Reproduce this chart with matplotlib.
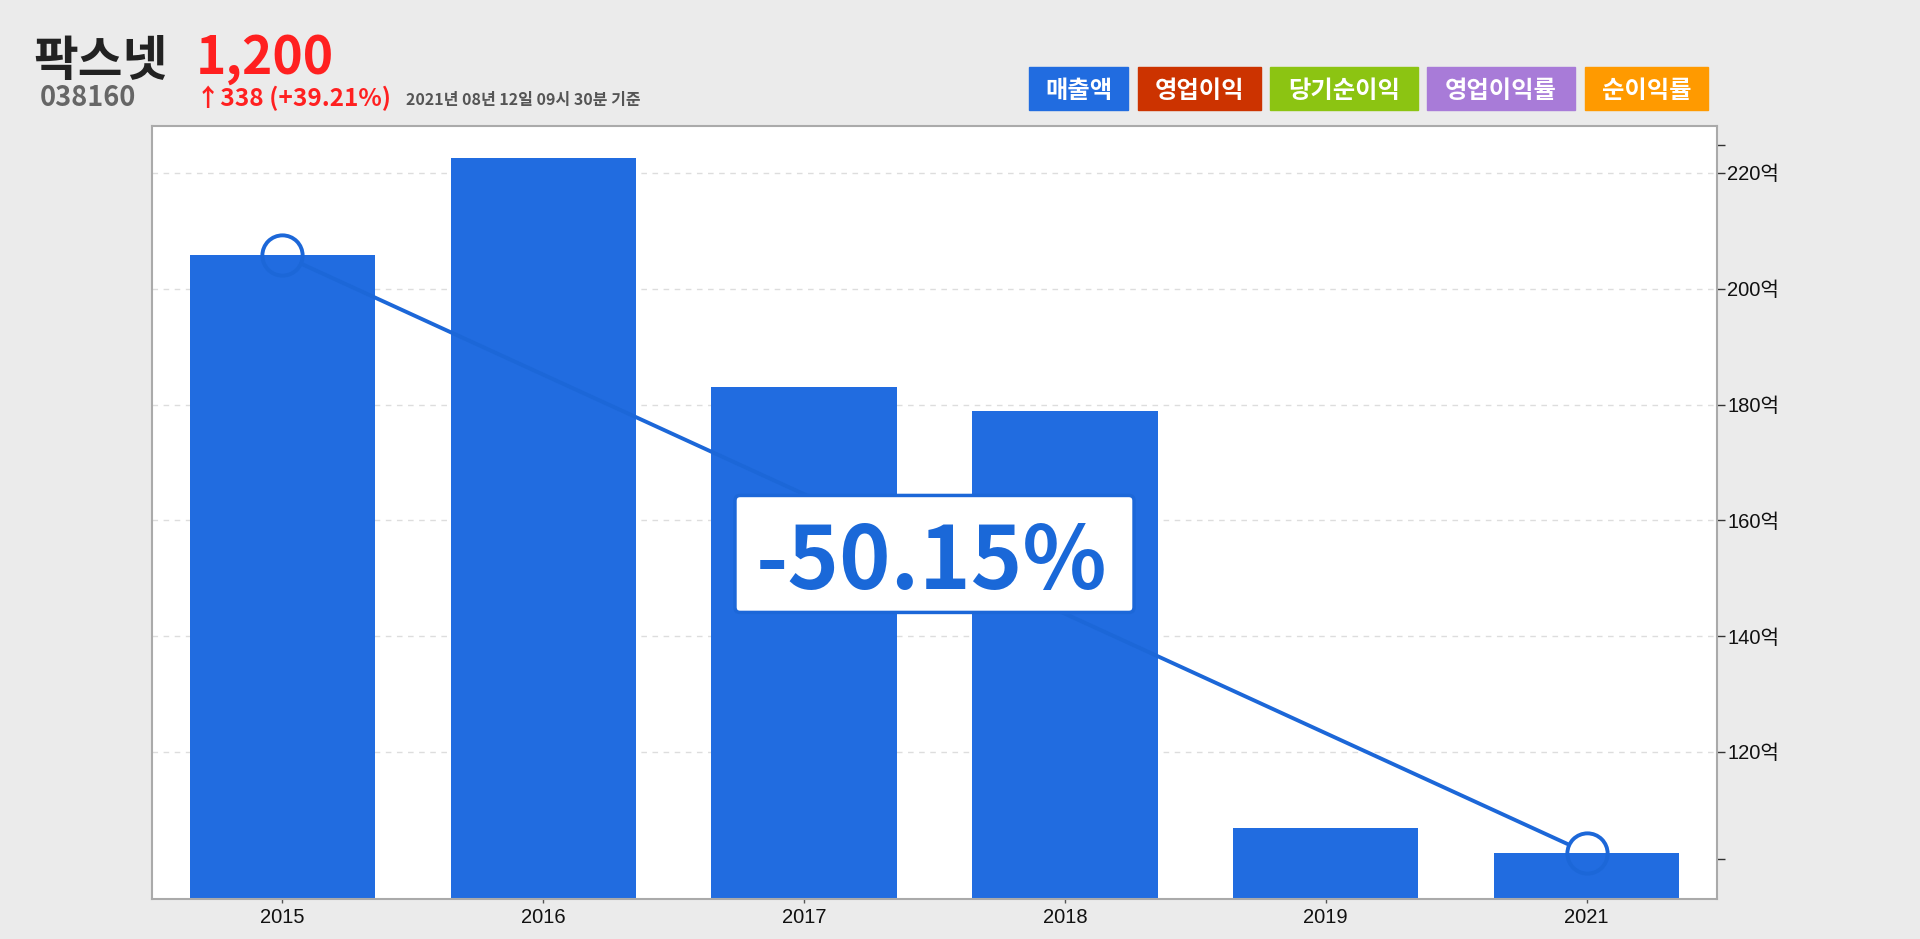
import matplotlib
matplotlib.use("Agg")
import matplotlib.pyplot as plt
import numpy as np
from matplotlib.patches import FancyBboxPatch, Rectangle
from matplotlib.ticker import FixedLocator, NullFormatter

plt.rcParams["font.family"] = ["Liberation Sans", "Noto Sans CJK KR", "DejaVu Sans"]

# ── Data ──────────────────────────────────────────────────────────────────────
years = ["2015", "2016", "2017", "2018", "2019", "2021"]
sales = [205.8, 222.5, 183.0, 178.8, 106.8, 102.6]      # 매출액 (억)
ytick_vals = [120, 140, 160, 180, 200, 220]
ytick_labels = [f"{v}억" for v in ytick_vals]
yminor_vals = [101.5, 224.9]
change_label = "-50.15%"

legend_names = ["매출액", "영업이익", "당기순이익", "영업이익률", "순이익률"]
legend_colors = ["#216ce0", "#cc3300", "#8cc412", "#a87bd8", "#ff9a00"]

stock_name = "팍스넷"
stock_code = "038160"
price = "1,200"
price_change = "338 (+39.21%)"
timestamp = "2021년 08년 12일 09시 30분 기준"

# ── Layout (pixels on a 1920x939 canvas) ─────────────────────────────────────
W, H = 1920, 939
BAR_C = "#216ce0"
LINE_C = "#1c67d8"
KR = ["Noto Sans CJK KR", "DejaVu Sans"]
legend_x = [(1029, 1128), (1138, 1261), (1270, 1418), (1427, 1575), (1585, 1708)]
legend_y = (67, 110)


def fx(px):
    return px / W


def fy(py):
    return 1 - py / H


fig = plt.figure(figsize=(W / 100, H / 100), dpi=100, facecolor="#ebebeb")
ax = fig.add_axes([fx(152), fy(898.5), fx(1717) - fx(152), fy(126) - fy(898.5)])
ax.set_facecolor("white")

# ── Bars ──────────────────────────────────────────────────────────────────────
x = np.arange(len(years))
ax.bar(x, sales, width=0.71, color=BAR_C, zorder=2)
ax.set_xlim(-0.5, len(years) - 0.5)
ax.set_ylim(94.7, 228.1)

# ── Trend line between first and last year ───────────────────────────────────
x0, x1 = x[0], x[-1]
v0, v1 = sales[0], sales[-1]
ax.annotate("", xy=(x1, v1), xytext=(x0, v0),
            arrowprops=dict(arrowstyle="-", color=LINE_C, lw=2.8,
                            shrinkA=15, shrinkB=15), zorder=4)
ax.plot([x0, x1], [v0, v1], "o", ms=29, mfc="none", mec=LINE_C, mew=2.8,
        zorder=4)

# ── Change label box ─────────────────────────────────────────────────────────
xm, ym = (x0 + x1) / 2, (v0 + v1) / 2
bw, bh = 1.53, 20.2
ax.add_patch(FancyBboxPatch((xm - bw / 2, ym - bh / 2), bw, bh,
                            boxstyle="round,pad=0,rounding_size=0.02",
                            mutation_aspect=45, fc="white", ec=LINE_C,
                            lw=2.5, zorder=5))
ax.text(xm - 0.01, ym, change_label, ha="center", va="center_baseline",
        fontsize=63, fontweight="heavy", color="#1a68d8", family=KR, zorder=6)

# ── Axes styling ─────────────────────────────────────────────────────────────
for s in ax.spines.values():
    s.set_color("#aaaaaa")
    s.set_linewidth(1.5)

ax.set_xticks(x, years)
ax.yaxis.tick_right()
ax.set_yticks(ytick_vals, ytick_labels)
ax.yaxis.set_minor_locator(FixedLocator(yminor_vals))
ax.yaxis.set_minor_formatter(NullFormatter())
ax.tick_params(axis="y", which="both", direction="out", length=6, width=1,
               color="#333333", pad=1.5, labelsize=14.5, labelcolor="#111111")
ax.tick_params(axis="x", direction="out", length=3, width=1, color="#555555",
               pad=4, labelsize=14.5, labelcolor="#111111")
ax.yaxis.grid(True, which="major", color="#dddddd", lw=1, ls=(0, (4, 4)))
ax.set_axisbelow(True)

# ── Header ───────────────────────────────────────────────────────────────────
fig.text(fx(33), fy(76), stock_name, fontsize=35, fontweight="heavy",
         color="#222222", family=KR, va="baseline")
fig.text(fx(196), fy(74), price, fontsize=37, fontweight="bold",
         color="#ff2020", family=KR, va="baseline")
fig.text(fx(40), fy(106), stock_code, fontsize=19.5, fontweight="bold",
         color="#666666", family=KR, va="baseline")
fig.text(fx(196), fy(106), "↑" + price_change, fontsize=17.5, fontweight="bold",
         color="#ff2020", family=KR, va="baseline")
fig.text(fx(406), fy(105), timestamp, fontsize=11.5, fontweight="bold",
         color="#555555", family=KR, va="baseline")

# ── Legend boxes ─────────────────────────────────────────────────────────────
for name, c, (l, r) in zip(legend_names, legend_colors, legend_x):
    fig.patches.append(Rectangle((fx(l), fy(legend_y[1])), fx(r) - fx(l),
                                 fy(legend_y[0]) - fy(legend_y[1]),
                                 transform=fig.transFigure, color=c))
    fig.text(fx((l + r) / 2), fy(sum(legend_y) / 2), name, ha="center",
             va="center_baseline", fontsize=17.5, fontweight="heavy",
             color="white", family=KR)

fig.savefig("out.png", dpi=100, facecolor=fig.get_facecolor())
